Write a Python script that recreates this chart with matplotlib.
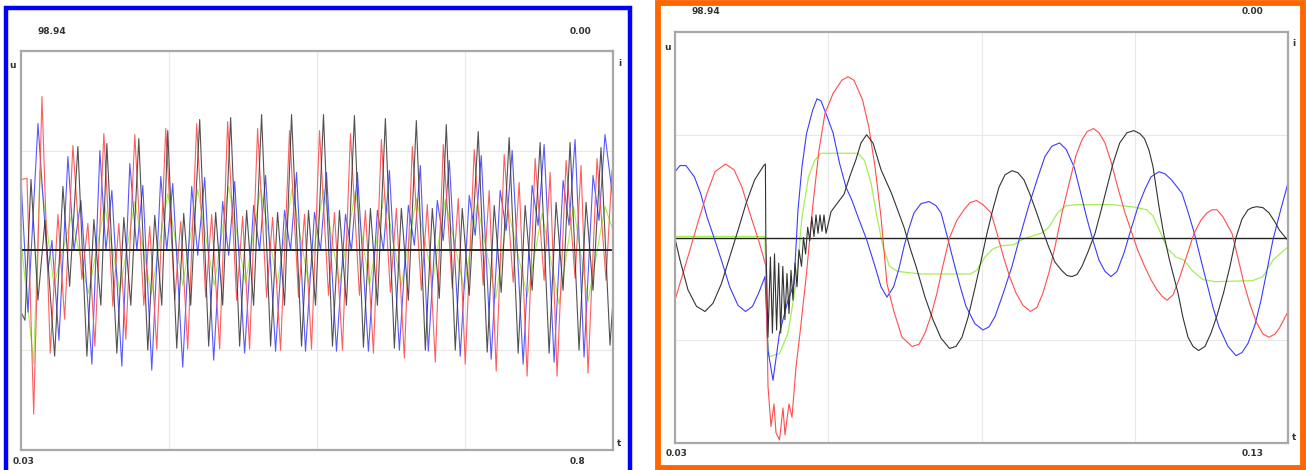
import numpy as np
import matplotlib
matplotlib.use("Agg")
import matplotlib.pyplot as plt
from matplotlib.patches import Rectangle

# ---- left record (0.03 .. 0.8 s), x = sample index, y = per unit ----
l_red_x = [0, 6, 12.7, 21, 29.3, 37, 43.7,
           52, 61, 67, 74, 83, 92, 98, 105, 114, 123, 129, 136,
           145, 154, 160, 167, 176, 185, 191, 199, 207, 216, 222, 229,
           237, 246, 252, 260, 269, 278, 284, 291, 299, 308, 314, 322,
           330, 339, 345, 353, 361, 370, 376, 384, 392, 401, 407, 415,
           423, 432, 438, 445, 454, 463, 469, 476, 484, 493, 499, 507,
           515, 524, 530, 537, 546, 555, 561, 568, 577, 586, 592]
l_red_y = [0.71, 0.72, -1.64, 1.54, -1.03, 0.36, -0.69,
           1.05, -0.29, 0.27, -0.96, 1.17, -0.56, 0.27, -0.89, 1.16, -0.55, 0.24, -0.99,
           1.22, -0.50, 0.29, -0.99, 1.27, -0.47, 0.36, -0.99, 1.29, -0.50, 0.34, -0.99,
           1.22, -0.47, 0.33, -1.00, 1.20, -0.47, 0.36, -0.99, 1.20, -0.45, 0.38, -1.00,
           1.17, -0.45, 0.40, -1.03, 1.11, -0.42, 0.42, -1.08, 1.04, -0.40, 0.46, -1.12,
           1.06, -0.38, 0.52, -1.14, 1.01, -0.35, 0.60, -1.21, 0.96, -0.32, 0.68, -1.26,
           0.92, -0.30, 0.78, -1.26, 0.90, -0.28, 0.85, -1.23, 0.92, -0.30, 0.80]

l_black_x = [0, 4, 10, 17, 24, 33.7, 42, 48.7,
             57, 66, 73, 80, 86, 96, 103, 110, 118, 127, 134, 141,
             147, 156, 163, 170, 179, 188, 195, 202, 210, 219, 226, 233,
             241, 250, 257, 264, 271, 281, 288, 295, 303, 312, 319, 326,
             334, 343, 350, 357, 365, 374, 381, 388, 396, 405, 412, 419,
             426, 435, 442, 449, 458, 467, 474, 481, 489, 498, 505, 512,
             520, 529, 536, 543, 550, 559, 566, 573, 581, 590, 593]
l_black_y = [-0.62, -0.70, 0.71, -0.50, 0.30, -1.06, 0.64, -0.36,
             1.04, -1.06, 0.31, -0.55, 1.07, -1.03, 0.33, -0.55, 1.12, -1.00, 0.35, -0.55,
             1.20, -0.98, 0.37, -0.55, 1.31, -0.96, 0.38, -0.55, 1.33, -0.96, 0.40, -0.55,
             1.36, -0.96, 0.38, -0.55, 1.36, -0.96, 0.40, -0.55, 1.36, -0.96, 0.40, -0.55,
             1.35, -0.97, 0.42, -0.55, 1.32, -0.98, 0.42, -0.50, 1.30, -1.00, 0.42, -0.48,
             1.26, -1.00, 0.42, -0.45, 1.19, -1.02, 0.45, -0.42, 1.13, -1.03, 0.45, -0.40,
             1.08, -1.03, 0.48, -0.40, 1.08, -1.00, 0.48, -0.40, 1.03, -0.95, -0.50]

l_blue_x = [0, 7, 17, 27, 31,
            38, 47, 53, 60, 71, 79, 85, 91, 101, 109, 116, 122,
            131, 140, 146, 152, 162, 171, 177, 184, 193, 202, 208, 214,
            224, 233, 239, 245, 255, 264, 270, 276, 285, 294, 300, 306,
            316, 325, 331, 337, 348, 357, 363, 369, 379, 388, 394, 400,
            408, 417, 423, 429, 440, 449, 455, 461, 471, 480, 486, 492,
            503, 512, 518, 524, 534, 543, 549, 555, 564, 573, 579, 585, 593]
l_blue_y = [0.71, -0.62, 1.27, -0.20, 0.10,
            -0.90, 0.94, 0.00, 0.50, -1.14, 1.00, 0.00, 0.60, -1.16, 0.87, 0.00, 0.65,
            -1.20, 0.74, 0.00, 0.67, -1.17, 0.64, -0.05, 0.73, -1.10, 0.49, -0.05, 0.69,
            -1.03, 0.45, 0.00, 0.75, -1.01, 0.40, 0.00, 0.78, -1.01, 0.38, 0.00, 0.78,
            -1.01, 0.36, 0.00, 0.78, -1.01, 0.40, 0.00, 0.80, -1.00, 0.45, 0.05, 0.85,
            -1.01, 0.50, 0.10, 0.90, -1.06, 0.55, 0.15, 0.95, -1.09, 0.60, 0.20, 1.00,
            -1.14, 0.65, 0.25, 1.06, -1.12, 0.70, 0.25, 1.11, -1.07, 0.75, 0.30, 1.16, 0.50]

l_green_x = [0, 12.7, 19, 33, 50.5, 67.4, 84, 99, 114, 130.5, 147, 162, 177, 193.6,
             208, 225, 240, 256.8, 271.5, 288, 303, 319, 335, 349, 364, 381, 396,
             412.5, 425, 444, 457, 475.6, 488, 507, 522, 539, 553.5, 568, 585, 593]
l_green_y = [0.10, -1.13, 0.80, -0.35, 0.34, -0.43, 0.44, -0.41, 0.49, -0.44, 0.57, -0.35,
             0.61, -0.35, 0.64, -0.33, 0.62, -0.33, 0.62, -0.33, 0.61, -0.33, 0.59, -0.35,
             0.57, -0.35, 0.52, -0.30, 0.51, -0.39, 0.47, -0.48, 0.41, -0.46, 0.37, -0.54,
             0.44, -0.51, 0.44, 0.20]

# ---- right record (0.03 .. 0.13 s) ----
r_blue_x = [0, 5, 11, 19.4, 25.6, 32, 39, 46.4, 54.7, 63, 70.5, 77.5, 83.7, 90,
            93, 98, 104.5, 113, 119, 123, 127, 131.5, 137.7, 142, 146, 152, 158,
            164.6, 171, 177, 183, 191.6, 200, 206, 212, 218.6, 224, 229, 234, 239,
            246, 254, 261, 266, 272, 279, 285, 291, 300, 308, 314, 320, 328, 337,
            345, 353.5, 362, 370, 377, 384.6, 391, 399, 405, 411.5, 418, 424, 430,
            436, 442, 449, 456, 463, 470, 476, 484, 490, 496.6, 507, 513, 519.4, 526,
            532, 538, 544, 553, 561, 567, 573, 580, 586, 592, 598, 606, 613]
r_blue_y = [0.64, 0.70, 0.70, 0.59, 0.43, 0.20, 0.0, -0.22, -0.48, -0.66, -0.72,
            -0.67, -0.54, -0.38, -1.10, -1.39, -0.93, -0.61, -0.45, 0.27, 0.69, 1.01,
            1.24, 1.35, 1.33, 1.18, 1.02, 0.72, 0.49, 0.36, 0.20, -0.02, -0.28, -0.48,
            -0.58, -0.48, -0.30, -0.09, 0.09, 0.24, 0.33, 0.35, 0.31, 0.24, 0.02, -0.25,
            -0.47, -0.67, -0.84, -0.90, -0.87, -0.77, -0.55, -0.28, 0.01, 0.30, 0.56,
            0.79, 0.89, 0.92, 0.86, 0.69, 0.46, 0.20, -0.03, -0.22, -0.33, -0.38, -0.33,
            -0.15, 0.08, 0.30, 0.47, 0.59, 0.64, 0.62, 0.56, 0.43, 0.25, 0.04, -0.22,
            -0.45, -0.68, -0.87, -1.06, -1.15, -1.12, -1.03, -0.85, -0.61, -0.32, -0.02,
            0.28, 0.53]

r_red_x = [0, 7, 15, 23.6, 32, 40, 50.5, 59, 67, 75, 83.7, 91, 93, 96, 99, 101,
           104.5, 108, 110, 114, 117, 121, 125, 131.5, 137.7, 144, 150, 158, 166.7,
           173, 179, 187.5, 193.7, 200, 206, 212, 218.6, 227, 237, 244, 250, 256, 262,
           268, 274.6, 282, 289, 295, 301.6, 308, 316, 322, 328.5, 335, 341, 348,
           355.5, 362, 368, 374, 380, 387, 395, 401, 407, 412, 418.6, 424, 430, 436,
           442.7, 450, 457, 463, 469.6, 476, 482, 487, 492, 498, 505, 512, 519, 526,
           532, 537, 542, 548, 557, 563, 569, 575, 581.6, 588, 594, 600, 604.5, 613]
r_red_y = [-0.61, -0.38, -0.12, 0.17, 0.43, 0.64, 0.715, 0.66, 0.49, 0.23, -0.03,
           -0.28, -1.45, -1.84, -1.62, -1.90, -1.97, -1.66, -1.92, -1.62, -1.75, -1.26,
           -0.93, -0.35, 0.30, 0.85, 1.21, 1.40, 1.53, 1.565, 1.53, 1.34, 1.08, 0.69,
           0.20, -0.45, -0.71, -0.97, -1.06, -1.04, -0.93, -0.76, -0.54, -0.27, 0.00,
           0.17, 0.27, 0.34, 0.36, 0.32, 0.24, 0.04, -0.19, -0.39, -0.54, -0.66, -0.72,
           -0.68, -0.54, -0.34, -0.09, 0.24, 0.56, 0.80, 0.95, 1.03, 1.06, 1.02, 0.92,
           0.74, 0.49, 0.24, 0.04, -0.13, -0.28, -0.41, -0.51, -0.57, -0.61, -0.56,
           -0.38, -0.17, 0.04, 0.17, 0.24, 0.27, 0.27, 0.20, 0.04, -0.20, -0.45, -0.65,
           -0.83, -0.94, -0.97, -0.94, -0.88, -0.72]

r_black_x = [0, 5, 13, 21.5, 30, 38, 46.4, 54.7, 63, 71, 79.6, 88.7, 90.4, 90.8, 93,
             95.4, 97.4, 99.5, 101.6, 103.7, 105.7, 107.8, 109.9, 112, 114, 116, 118,
             120, 122, 124, 126.5, 128.5, 130.6, 132.7, 134.8, 136.8, 139, 141, 143,
             145, 147, 149, 151, 156, 162, 169, 175, 181, 186, 191.6, 198, 206, 216.5,
             229, 235, 241, 250, 258, 266, 274.6, 281, 287, 293, 299.5, 306, 312, 318,
             324, 330, 337, 343, 349, 355, 361.7, 368, 374, 380, 386.6, 392, 397, 402,
             407, 413, 420, 426, 432, 438, 444.7, 452, 459, 465, 469.6, 474, 478, 484,
             489, 494.5, 503, 508, 513, 518, 523.6, 530, 536, 542, 548.5, 555, 561, 567,
             573, 577, 581.7, 588, 594, 600, 604.5, 613]
r_black_y = [-0.01, -0.22, -0.51, -0.67, -0.72, -0.64, -0.45, -0.19, 0.07, 0.33, 0.56,
             0.70, 0.715, 0.0, -0.97, -0.19, -0.93, -0.16, -0.90, -0.25, -0.93, -0.28,
             -0.80, -0.35, -0.74, -0.32, -0.61, -0.25, -0.48, -0.12, -0.28, 0.00, -0.16,
             0.10, -0.03, 0.20, 0.01, 0.22, 0.04, 0.22, 0.06, 0.22, 0.04, 0.25, 0.33,
             0.42, 0.60, 0.76, 0.92, 1.00, 0.92, 0.66, 0.43, 0.10, -0.10, -0.28, -0.58,
             -0.80, -0.98, -1.08, -1.06, -0.97, -0.78, -0.51, -0.23, 0.04, 0.28, 0.49,
             0.61, 0.65, 0.63, 0.56, 0.42, 0.24, 0.06, -0.10, -0.24, -0.32, -0.37,
             -0.38, -0.36, -0.28, -0.14, 0.04, 0.26, 0.49, 0.72, 0.92, 1.02, 1.04, 1.01,
             0.96, 0.85, 0.69, 0.30, 0.02, -0.22, -0.54, -0.78, -0.97, -1.06, -1.10,
             -1.06, -0.93, -0.76, -0.54, -0.28, 0.00, 0.18, 0.27, 0.29, 0.30, 0.29,
             0.24, 0.15, 0.07, -0.03]

r_green_x = [0, 90, 92, 94, 104.5, 113, 121, 127, 133.5, 139.7, 146, 183, 189.5, 196,
             202, 208, 214.4, 222.7, 245.6, 295.4, 301.6, 310, 318, 326.5, 339, 347,
             355.5, 366, 374, 382.5, 391, 403, 436, 457, 471.7, 478, 484, 492.5, 501,
             509, 517, 528, 540, 577.5, 588, 598, 613]
r_green_y = [0.01, 0.01, -0.90, -1.16, -1.13, -0.93, -0.45, 0.20, 0.59, 0.75, 0.82,
             0.82, 0.75, 0.53, 0.20, -0.09, -0.28, -0.33, -0.355, -0.355, -0.32, -0.19,
             -0.11, -0.08, -0.07, -0.02, 0.01, 0.04, 0.10, 0.24, 0.31, 0.32, 0.32, 0.30,
             0.27, 0.21, 0.08, -0.11, -0.19, -0.22, -0.32, -0.41, -0.43, -0.42, -0.38,
             -0.22, -0.09]

# texts at the corners of each record
top_left_txt = "98.94"
top_right_txt = "0.00"
left_t0, left_t1 = "0.03", "0.8"
right_t0, right_t1 = "0.03", "0.13"

RED = "#ff4d4d"
BLUE = "#3b3bff"
BLACK = "#333333"
GREEN = "#a6ee55"

W, H = 1306, 470
fig = plt.figure(figsize=(W / 100, H / 100), dpi=100)
fig.patch.set_facecolor("white")


def fx(px):
    return px / W


def fy(py):
    return 1 - py / H


def setup(ax, nx):
    ax.set_xlim(0, nx)
    ax.set_ylim(-2, 2)
    ax.set_xticks([])
    ax.set_yticks([])
    for s in ax.spines.values():
        s.set_color("#a8a8a8")
        s.set_linewidth(1.6)
    for k in (1, 2, 3):
        ax.axvline(nx * k / 4, color="#e8e8e8", lw=0.8, zorder=0)
    for v in (-1, 1):
        ax.axhline(v, color="#e8e8e8", lw=0.8, zorder=0)


# left panel
axl = fig.add_axes([fx(21), fy(450), fx(592), (450 - 50.7) / H])
setup(axl, 593)
axl.plot(l_green_x, l_green_y, color=GREEN, lw=0.8)
axl.plot(l_blue_x, l_blue_y, color=BLUE, lw=0.8, alpha=0.85)
axl.plot(l_red_x, l_red_y, color=RED, lw=0.8, alpha=0.9)
axl.plot(l_black_x, l_black_y, color=BLACK, lw=0.8, alpha=0.85)
axl.axhline(0, color="#222222", lw=1.4)

# right panel
axr = fig.add_axes([fx(675), fy(443), fx(613), (443 - 32) / H])
setup(axr, 613)
axr.plot(r_green_x, r_green_y, color=GREEN, lw=0.9)
axr.axhline(0, color="#222222", lw=1.0)
axr.plot(r_blue_x, r_blue_y, color=BLUE, lw=0.8)
axr.plot(r_red_x, r_red_y, color=RED, lw=0.8)
axr.plot(r_black_x, r_black_y, color=BLACK, lw=0.8)

# frames around the two records
fig.patches.append(Rectangle((fx(5.5), fy(480)), fx(624.5), (480 - 7.5) / H, transform=fig.transFigure,
                             fill=False, edgecolor="#0000ff", lw=3.2))
fig.patches.append(Rectangle((fx(658), fy(467.5)), fx(645), (467.5 - 3) / H, transform=fig.transFigure,
                             fill=False, edgecolor="#ff6600", lw=4.2))

tk = dict(fontsize=6.5, fontweight="bold", color="#333333", va="center")
fig.text(fx(52), fy(31), top_left_txt, ha="center", **tk)
fig.text(fx(580), fy(31), top_right_txt, ha="center", **tk)
fig.text(fx(13), fy(66), "u", ha="center", **tk)
fig.text(fx(620), fy(63), "i", ha="center", **tk)
fig.text(fx(24), fy(461), left_t0, ha="center", **tk)
fig.text(fx(577), fy(461), left_t1, ha="center", **tk)
fig.text(fx(619), fy(444), "t", ha="center", **tk)

fig.text(fx(706), fy(12), top_left_txt, ha="center", **tk)
fig.text(fx(1253), fy(12), top_right_txt, ha="center", **tk)
fig.text(fx(667), fy(48), "u", ha="center", **tk)
fig.text(fx(1294), fy(44), "i", ha="center", **tk)
fig.text(fx(677), fy(454), right_t0, ha="center", **tk)
fig.text(fx(1253), fy(454), right_t1, ha="center", **tk)
fig.text(fx(1294), fy(438), "t", ha="center", **tk)

fig.savefig("out.png", dpi=100)
